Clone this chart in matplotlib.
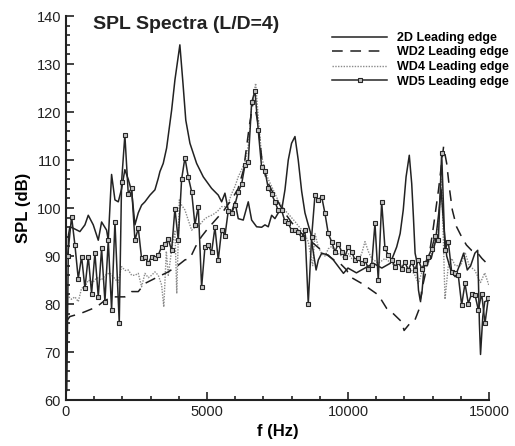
import numpy as np
import matplotlib.pyplot as plt
from matplotlib.ticker import MultipleLocator

plt.rcParams['font.family'] = ['Liberation Sans', 'DejaVu Sans']

# 2D leading edge (solid)
f_2d = [30, 90, 142, 260, 496, 674, 792, 969, 1147, 1265, 1442, 1501, 1619, 1738, 1856, 1974,
        2090, 2210, 2330, 2447, 2565, 2683, 2801, 2980, 3156, 3274, 3333, 3450, 3570, 3748, 3865,
        4040, 4150, 4250, 4397, 4634, 4870, 5165, 5401, 5521, 5638, 5755, 5876, 5993, 6110, 6287,
        6465, 6585, 6762, 6939, 7057, 7174, 7294, 7411, 7529, 7649, 7766, 7883, 8000, 8121, 8237,
        8358, 8475, 8592, 8680, 8750, 8870, 8950, 9070, 9300, 9480, 9660, 9840, 10000, 10300,
        10600, 10900, 11200, 11500, 11727, 11850, 11960, 12060, 12174, 12260, 12320, 12380, 12430,
        12500, 12560, 12620, 12700, 12800, 12950, 13100, 13220, 13300, 13400, 13500, 13650, 13800,
        13950, 14100, 14230, 14350, 14500, 14600, 14660, 14700, 14780, 14850, 14990]
spl_2d = [62.0, 94.4, 96.1, 95.8, 95.1, 96.5, 98.5, 96.5, 93.3, 97.1, 95.4, 93.3, 107.0, 101.7,
          101.3, 104.0, 108.0, 106.0, 103.5, 96.5, 99.0, 100.6, 101.3, 102.7, 103.8, 106.2, 107.6,
          109.3, 112.5, 120.4, 126.7, 134.0, 126.0, 118.3, 113.5, 109.3, 106.5, 104.1, 102.7, 101.3,
          103.1, 99.6, 99.2, 101.3, 97.8, 97.5, 101.3, 97.5, 96.1, 96.0, 96.5, 96.1, 98.5, 97.8,
          99.0, 99.6, 103.8, 110.0, 113.5, 114.9, 110.0, 103.5, 99.0, 96.5, 94.7, 91.6, 87.1, 89.2,
          90.6, 90.2, 89.2, 87.8, 86.4, 87.5, 86.5, 87.5, 88.5, 87.5, 88.5, 91.9, 94.7, 99.6, 106.5,
          111.0, 105.1, 98.2, 90.6, 89.2, 82.9, 80.8, 82.2, 87.8, 89.0, 89.5, 93.0, 99.0, 104.0,
          96.0, 90.0, 87.0, 85.7, 88.0, 90.6, 87.1, 88.0, 90.6, 91.2, 76.0, 69.5, 77.4, 80.5, 80.8]

# WD2 leading edge (dashed)
f_wd2 = [30, 142, 496, 674, 1087, 1323, 1619, 1900, 2090, 2330, 2565, 2801, 3038, 3274, 3629,
         3983, 4220, 4397, 4600, 4800, 5000, 5300, 5600, 5900, 6100, 6300, 6500, 6650, 6800, 6950,
         7100, 7400, 7700, 8000, 8300, 8600, 8900, 9200, 9500, 9716, 9953, 10071, 10486, 10663,
         11075, 11372, 11606, 11904, 11990, 12199, 12376, 12553, 12613, 12850, 13030, 13210, 13390,
         13500, 13600, 13700, 13850, 14030, 14200, 14380, 14560, 14750, 14920, 14990]
spl_wd2 = [76.5, 77.4, 78.0, 78.4, 79.4, 80.5, 81.5, 81.5, 81.5, 82.6, 82.6, 84.3, 85.0, 85.7,
           86.7, 88.1, 89.2, 89.5, 92.0, 94.0, 95.5, 97.5, 99.5, 102.0, 104.0, 108.0, 117.0, 122.5,
           118.0, 110.0, 106.0, 102.5, 99.5, 97.0, 95.0, 93.5, 92.0, 90.5, 89.2, 88.5, 87.1, 85.7,
           84.3, 83.6, 81.9, 79.1, 78.0, 76.3, 74.5, 76.0, 76.7, 79.4, 82.9, 89.0, 96.1, 103.8,
           112.8, 109.3, 104.0, 99.6, 96.1, 94.0, 92.3, 91.2, 90.9, 89.5, 88.5, 88.2]

# WD4 leading edge (dotted)
f_wd4 = [30, 200, 319, 437, 556, 674, 800, 950, 1100, 1250, 1400, 1550, 1700, 1850, 1974, 2100,
         2210, 2330, 2447, 2565, 2683, 2801, 2920, 3038, 3156, 3274, 3392, 3470, 3560, 3629, 3747,
         3865, 3930, 4020, 4102, 4220, 4337, 4457, 4574, 4692, 4811, 4929, 5046, 5165, 5284, 5401,
         5521, 5638, 5755, 5876, 5993, 6110, 6230, 6348, 6465, 6585, 6727, 6819, 6939, 7057, 7174,
         7294, 7411, 7529, 7649, 7766, 7883, 8000, 8121, 8237, 8358, 8475, 8592, 8680, 8750, 8830,
         8947, 9067, 9184, 9301, 9420, 9539, 9656, 9776, 9894, 10011, 10131, 10248, 10365, 10486,
         10603, 10720, 10840, 10957, 11074, 11195, 11312, 11429, 11550, 11667, 11784, 11904, 12021,
         12138, 12259, 12376, 12493, 12613, 12730, 12848, 12968, 13085, 13205, 13322, 13440, 13557,
         13680, 13800, 14000, 14150, 14300, 14500, 14700, 14850, 14990]
spl_wd4 = [81.9, 81.0, 81.5, 80.5, 83.3, 83.6, 85.0, 84.5, 85.5, 85.0, 86.0, 86.5, 85.5, 84.5,
           87.8, 87.0, 87.1, 86.0, 86.0, 86.4, 83.6, 86.4, 85.5, 86.0, 86.7, 86.0, 84.0, 79.4, 91.0,
           86.0, 91.2, 95.4, 82.2, 101.7, 100.6, 99.6, 97.5, 95.4, 96.0, 96.1, 97.0, 97.8, 98.2,
           98.5, 98.9, 99.5, 100.3, 100.3, 101.0, 103.0, 104.5, 106.5, 108.0, 109.5, 113.0, 121.0,
           126.0, 119.0, 110.7, 107.9, 106.0, 104.5, 103.0, 101.5, 100.5, 99.5, 98.8, 98.0, 97.2,
           96.3, 95.5, 94.5, 93.0, 90.0, 88.0, 94.7, 91.9, 90.5, 90.0, 91.5, 92.0, 91.0, 90.5, 90.0,
           89.5, 90.5, 89.5, 89.5, 89.0, 90.5, 93.0, 91.0, 89.5, 89.0, 88.5, 89.0, 89.5, 89.0, 88.5,
           88.0, 88.5, 88.0, 88.5, 87.5, 87.0, 86.0, 84.3, 86.5, 87.5, 88.5, 90.5, 93.0, 97.0, 106.0,
           81.0, 88.0, 89.5, 88.0, 88.0, 90.8, 88.0, 87.0, 84.5, 86.5, 84.0]

# WD5 leading edge (solid with markers)
f_wd5 = [60, 201, 319, 437, 556, 674, 792, 910, 1028, 1147, 1265, 1383, 1501, 1619, 1738, 1891,
         1974, 2090, 2210, 2330, 2447, 2565, 2683, 2801, 2920, 3038, 3156, 3274, 3392, 3511, 3629,
         3747, 3865, 3983, 4102, 4220, 4337, 4457, 4574, 4692, 4811, 4929, 5046, 5165, 5284, 5401,
         5521, 5638, 5755, 5876, 5993, 6110, 6230, 6348, 6465, 6585, 6702, 6819, 6939, 7057, 7174,
         7294, 7411, 7529, 7649, 7766, 7883, 8000, 8121, 8237, 8358, 8475, 8592, 8712, 8830, 8947,
         9067, 9184, 9301, 9420, 9539, 9656, 9776, 9894, 10011, 10131, 10248, 10365, 10486, 10603,
         10720, 10840, 10957, 11074, 11195, 11312, 11429, 11550, 11667, 11784, 11904, 12021, 12138,
         12259, 12376, 12493, 12613, 12730, 12848, 12968, 13085, 13205, 13322, 13440, 13557, 13677,
         13794, 13911, 14031, 14149, 14266, 14386, 14504, 14621, 14740, 14858, 14975]
spl_wd5 = [90.0, 98.2, 92.3, 85.3, 89.9, 83.3, 89.9, 82.2, 90.6, 81.5, 91.6, 80.5, 93.3, 78.8,
           97.1, 76.0, 105.5, 115.2, 103.0, 104.2, 93.3, 95.8, 89.5, 89.9, 88.5, 89.9, 89.5, 90.2,
           91.9, 92.5, 93.5, 91.2, 99.9, 93.3, 106.0, 110.5, 106.5, 103.4, 96.5, 100.3, 83.5, 91.9,
           92.3, 90.8, 96.0, 89.2, 95.5, 94.2, 99.4, 98.9, 100.7, 103.4, 105.0, 109.0, 109.6, 122.0,
           124.4, 116.2, 108.5, 107.8, 104.1, 102.9, 101.3, 99.5, 99.5, 97.2, 96.8, 95.4, 95.4, 95.1,
           93.7, 95.4, 80.1, 94.0, 102.7, 101.7, 102.4, 98.9, 94.7, 93.0, 90.9, 92.6, 90.9, 89.9,
           91.9, 90.9, 89.2, 89.5, 88.5, 89.2, 87.4, 88.1, 96.8, 85.0, 101.3, 91.6, 90.2, 89.2, 87.8,
           88.8, 87.4, 88.8, 87.0, 88.8, 87.1, 89.2, 87.4, 88.5, 89.9, 91.5, 94.2, 93.3, 111.5, 91.3,
           93.0, 86.7, 86.4, 86.0, 79.8, 84.3, 80.1, 82.2, 81.9, 78.8, 82.2, 76.0, 81.2]

labels = ['2D Leading edge', 'WD2 Leading edge', 'WD4 Leading edge', 'WD5 Leading edge']

fig = plt.figure(figsize=(5.15, 4.46), dpi=100)
ax = fig.add_axes([0.128, 0.103, 0.8215, 0.861])

l4, = ax.plot(f_wd4, spl_wd4, color='#8a8a8a', lw=1.0, ls=(0, (1, 1)), zorder=2)
l2, = ax.plot(f_wd2, spl_wd2, color='#1e1e1e', lw=1.1, ls=(0, (7, 5)), zorder=3)
l1, = ax.plot(f_2d, spl_2d, color='#222222', lw=1.1, zorder=4)
l5, = ax.plot(f_wd5, spl_wd5, color='#262626', lw=1.1, marker='s', ms=3.2,
              mfc='#c0c0c0', mec='#262626', mew=0.8, zorder=5)

ax.set_xlim(0, 15000)
ax.set_ylim(60, 140)
ax.xaxis.set_major_locator(MultipleLocator(5000))
ax.xaxis.set_minor_locator(MultipleLocator(1000))
ax.yaxis.set_major_locator(MultipleLocator(10))
ax.yaxis.set_minor_locator(MultipleLocator(2))
ax.tick_params(which='both', direction='in', colors='#222222', labelsize=10.5, width=1.2)
ax.tick_params(which='major', length=6)
ax.tick_params(which='minor', length=3)
ax.spines['top'].set_visible(False)
ax.spines['right'].set_visible(False)
for s in ['left', 'bottom']:
    ax.spines[s].set_linewidth(1.5)
    ax.spines[s].set_color('#222222')

ax.set_xlabel('f (Hz)', fontsize=12, fontweight='bold', labelpad=4)
ax.set_ylabel('SPL (dB)', fontsize=12, fontweight='bold', labelpad=4)

fig.text(0.18, 0.945, 'SPL Spectra (L/D=4)', fontsize=14, fontweight='bold',
         ha='left', va='center', color='#222222')

leg = ax.legend([l1, l2, l4, l5], labels, loc='upper left',
                bbox_to_anchor=(332 / 515, 1 - 32 / 446), bbox_transform=fig.transFigure,
                frameon=False, prop={'weight': 'bold', 'size': 9},
                handlelength=4.4, handletextpad=0.8, labelspacing=0.2, borderpad=0,
                borderaxespad=0, markerscale=1.0)

fig.savefig('out.png', dpi=100)
